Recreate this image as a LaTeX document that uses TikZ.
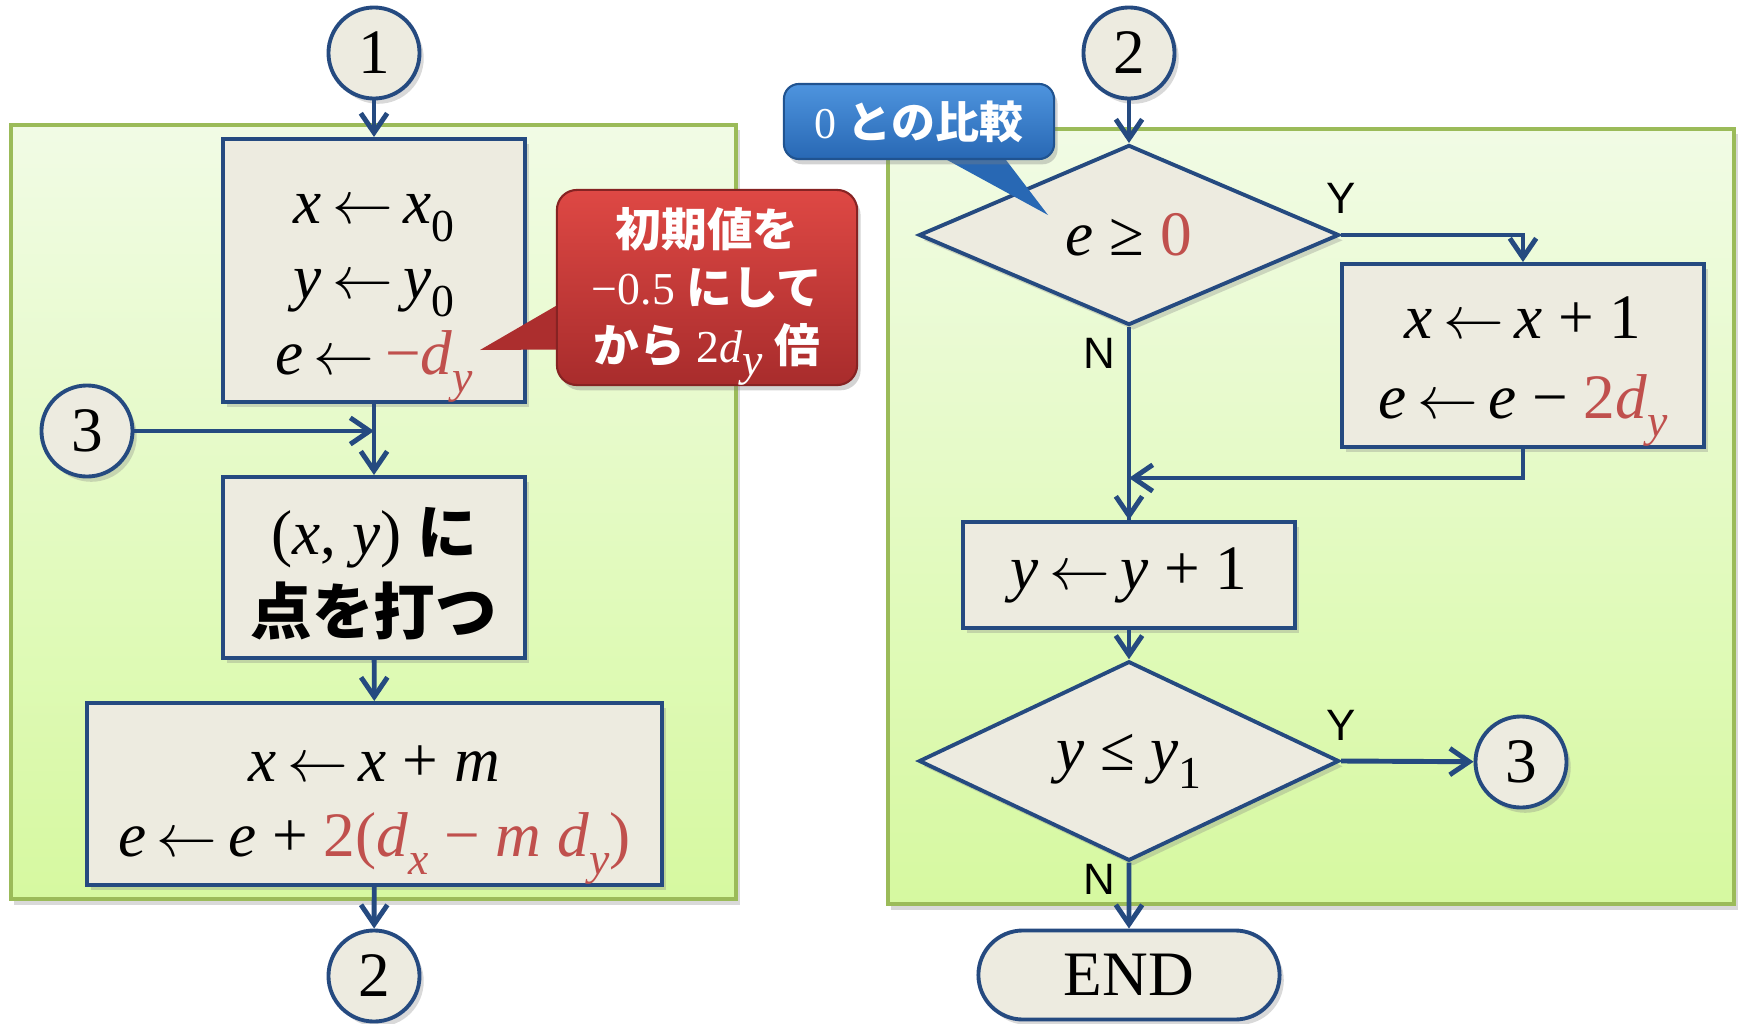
\documentclass[tikz,border=0pt]{standalone}
\usepackage{fontspec}
\setmainfont{Liberation Serif}
\setsansfont{Liberation Sans}
\newfontfamily\jpfont{Noto Sans CJK JP}
\usepackage{tikz}
\usetikzlibrary{arrows.meta,positioning,calc,shapes.geometric,shapes.misc,shadows}

\definecolor{flowblue}{RGB}{37,74,128}
\definecolor{boxfill}{RGB}{237,235,224}
\definecolor{mathred}{RGB}{192,80,77}
\definecolor{panelline}{RGB}{155,187,89}
\definecolor{paneltop}{RGB}{241,251,229}
\definecolor{panelbot}{RGB}{214,249,160}
\definecolor{redtop}{RGB}{222,72,68}
\definecolor{redbot}{RGB}{168,44,44}
\definecolor{bluetop}{RGB}{78,148,222}
\definecolor{bluebot}{RGB}{40,104,180}

\pgfdeclarelayer{ptr}
\pgfdeclarelayer{top}
\pgfsetlayers{main,ptr,top}

%% variables, subscripts, arrows
\newcommand{\vr}[1]{\textit{#1}}
\newcommand{\lo}[1]{\raisebox{-0.28em}{\fontsize{13}{13}\selectfont #1}}
\newcommand{\jb}[1]{{\jpfont\bfseries #1}}
\newcommand{\asg}{\,$\leftarrow$\,}
\newcommand{\tstrut}[1]{\rule{0pt}{#1}}

\tikzset{
  fcBox/.style={draw=flowblue, line width=1.1pt, fill=boxfill, align=center,
    inner sep=0pt, font=\fontsize{18}{21.5}\selectfont,
    drop shadow={shadow xshift=1.2pt, shadow yshift=-1.5pt, opacity=0.3}},
  fcDec/.style={fcBox, diamond, minimum width=4.2cm, minimum height=1.8cm},
  fcConn/.style={fcBox, circle, minimum size=0.91cm},
  fcEnd/.style={fcBox, rounded rectangle, minimum width=3.01cm, minimum height=0.89cm},
  fcPanel/.style={draw=panelline, line width=1pt, top color=paneltop, bottom color=panelbot,
    inner sep=0pt, drop shadow={shadow xshift=1pt, shadow yshift=-1.5pt, opacity=0.3}},
  %% connectors
  fcFlow/.style={-{Straight Barb[length=5.5pt,width=7.5pt]}, draw=flowblue, line width=1.4pt},
  fcLine/.style={draw=flowblue, line width=1.4pt},
  ynLbl/.style={font=\sffamily\fontsize{12.5}{14}\selectfont, inner sep=0pt},
  %% callouts
  noteRed/.style={draw=redbot!80!black, line width=0.6pt, top color=redtop, bottom color=redbot,
    rounded corners=0.2cm, text=white, align=center, inner sep=0pt,
    font=\fontsize{13}{16.5}\selectfont,
    drop shadow={shadow xshift=1pt, shadow yshift=-1.5pt, opacity=0.35}},
  noteBlue/.style={draw=bluebot!80!black, line width=0.6pt, top color=bluetop, bottom color=bluebot,
    rounded corners=0.15cm, text=white, align=center, inner sep=0pt,
    font=\fontsize{12.5}{15}\selectfont,
    drop shadow={shadow xshift=1pt, shadow yshift=-1.5pt, opacity=0.35}},
}

\begin{document}
\begin{tikzpicture}[x=0.01cm, y=-0.01cm]
\useasboundingbox (0,0) rectangle (1741,1024);

%% Panels
\node[fcPanel, minimum width=7.25cm, minimum height=7.74cm] (pnlL) at (373.5,512) {};
\node[fcPanel, minimum width=8.46cm, minimum height=7.75cm] (pnlR) at (1311,516.5) {};

%% Left column
\node[fcConn] (c1) at (374,53) {1};
\node[fcBox, minimum width=3.02cm, minimum height=2.61cm] (init) at (374,270.5)
  {\tstrut{24pt}\vr{x}\asg\vr{x}\lo{0}\\ \vr{y}\asg\vr{y}\lo{0}\\ \vr{e}\asg\textcolor{mathred}{−\vr{d}\lo{\vr{y}}}};
\node[fcConn] (c3L) at (87,431) {3};
\coordinate (mrgL) at (374,431);
\node[fcBox, minimum width=3.02cm, minimum height=1.81cm] (plot) at (374,567.5)
  {\tstrut{17pt}(\vr{x}, \vr{y}) {\fontsize{17}{21.5}\selectfont\jb{に}}\\[0.05cm] {\fontsize{17.5}{21.5}\selectfont\jb{点を打つ}}};
\node[fcBox, minimum width=5.75cm, minimum height=1.82cm] (step) at (374.5,794)
  {\tstrut{22pt}\vr{x}\asg\vr{x} + \vr{m}\\ \vr{e}\asg\vr{e} + \textcolor{mathred}{2(\vr{d}\lo{\vr{x}} − \vr{m} \vr{d}\lo{\vr{y}})}};
\node[fcConn] (c2L) at (374,976) {2};

\draw[fcFlow] (c1) -- (init);
\draw[fcLine] (init) -- (mrgL);
\draw[fcFlow] (c3L) -- (mrgL);
\draw[fcFlow] (mrgL) -- (plot);
\draw[fcFlow] (plot) -- (step);
\draw[fcFlow] (step) -- (c2L);

%% Right column
\node[fcConn] (c2R) at (1129,53) {2};
\node[fcDec] (cmpE) at (1129,235) {\vr{e} ≥ \textcolor{mathred}{0}};
\node[fcBox, minimum width=3.62cm, minimum height=1.83cm] (incX) at (1523,355.5)
  {\tstrut{21pt}\vr{x}\asg\vr{x} + 1\\[0.05cm] \vr{e}\asg\vr{e} − \textcolor{mathred}{2\vr{d}\lo{\vr{y}}}};
\coordinate (mrgR) at (1129,478);
\node[fcBox, minimum width=3.32cm, minimum height=1.06cm] (incY) at (1129,575) {\vr{y}\asg\vr{y} + 1};
\node[fcDec] (cmpY) at (1129,761) {\vr{y} ≤ \vr{y}\lo{1}};
\node[fcConn] (c3R) at (1521,762) {3};
\node[fcEnd] (done) at (1129,975) {END};

\draw[fcFlow] (c2R) -- (cmpE);
\draw[fcFlow] (cmpE.east) -| (incX.north);
\draw[fcLine] (cmpE.south) -- (incY.north);
\draw[fcFlow] (incX.south) |- (mrgR);
\draw[fcFlow] (mrgR) -- (incY.north);
\draw[fcFlow] (incY) -- (cmpY);
\draw[fcFlow] (cmpY.east) -- (c3R);
\draw[fcFlow] (cmpY.south) -- (done);

\node[ynLbl] (yes1) at (1341,198) {Y};
\node[ynLbl] (no1)  at (1099,353) {N};
\node[ynLbl] (yes2) at (1341,725) {Y};
\node[ynLbl] (no2)  at (1099,879) {N};

%% Callouts
\coordinate (tipR) at (480,350);
\coordinate (tipB) at (1048,215);
\begin{pgfonlayer}{top}
\node[noteRed, minimum width=3.0cm, minimum height=1.95cm] (initNote) at (707,287.5)
  {\tstrut{16pt}\jb{初期値を}\\ −0.5 \jb{にして}\\ \jb{から} 2\vr{d}\lo{\vr{y}} \jb{倍}};
\node[noteBlue, minimum width=2.7cm, minimum height=0.75cm] (zeroNote) at (919,121.5)
  {0 \jb{との比較}};
\end{pgfonlayer}
\begin{pgfonlayer}{ptr}
\fill[redbot!92!redtop] ($(initNote.west)+(6,15)$) -- (tipR) -- ($(initNote.west)+(6,62)$) -- cycle;
\fill[bluebot] ($(zeroNote.south)+(21,-4)$) -- (tipB) -- ($(zeroNote.south)+(84,-4)$) -- cycle;
\end{pgfonlayer}

\end{tikzpicture}
\end{document}
